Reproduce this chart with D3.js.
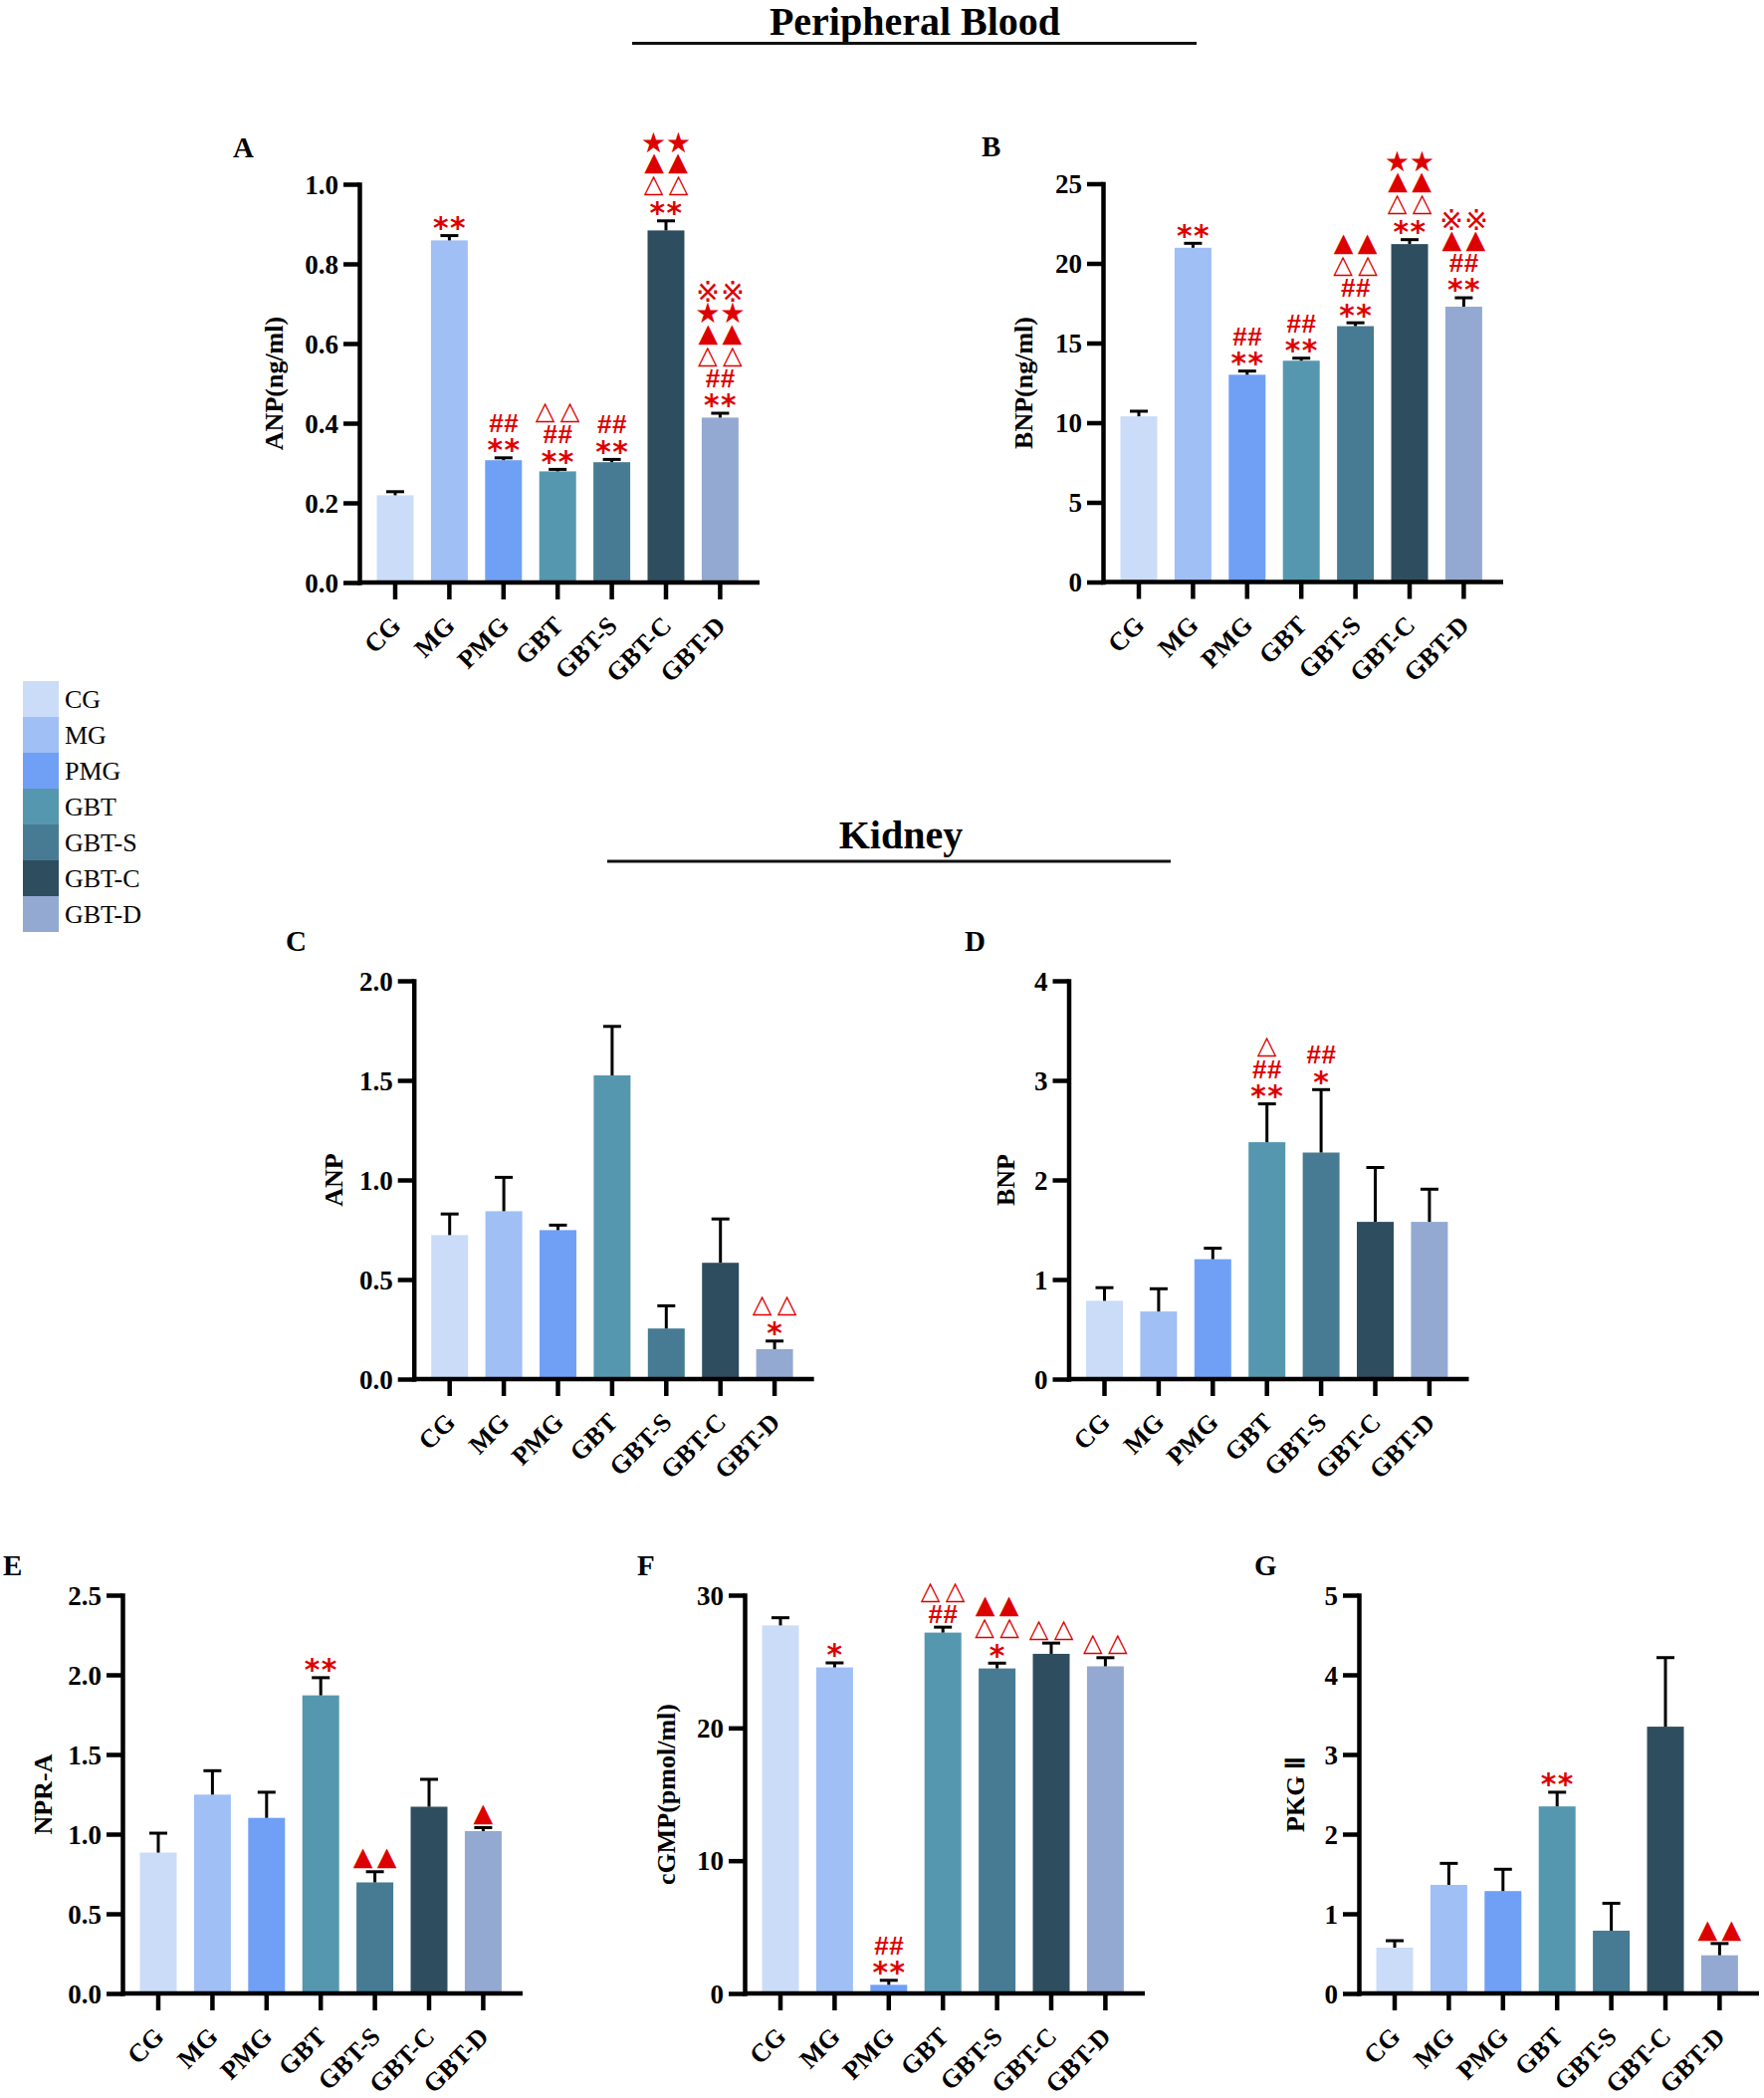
<!DOCTYPE html>
<html>
<head>
<meta charset="utf-8">
<script src="https://cdn.jsdelivr.net/npm/d3@7"></script>
<style>
  body { margin: 0; background: #fff; }
  svg text { fill: #000; }
</style>
</head>
<body>
<div id="chart"></div>
<script>
// groups and their bar colours
const groups = ["CG", "MG", "PMG", "GBT", "GBT-S", "GBT-C", "GBT-D"];
const groupColors = ["#cbdcf9", "#9fbff5", "#70a0f5", "#5697b0", "#477b94", "#2e4e5f", "#94a9d1"];

// A: peripheral blood ANP (ng/ml)
const bloodAnpMean = [0.219, 0.859, 0.307, 0.279, 0.302, 0.884, 0.414];
const bloodAnpErr = [0.009, 0.012, 0.006, 0.005, 0.007, 0.024, 0.011];
const bloodAnpTicks = [0, 0.2, 0.4, 0.6, 0.8, 1.0];
const bloodAnpMarks = [[], ["**"], ["**", "##"], ["**", "##", "△△"], ["**", "##"],
  ["**", "△△", "▲▲", "★★"], ["**", "##", "△△", "▲▲", "★★", "※※"]];

// B: peripheral blood BNP (ng/ml)
const bloodBnpMean = [10.40, 20.98, 13.01, 13.89, 16.06, 21.21, 17.28];
const bloodBnpErr = [0.32, 0.28, 0.23, 0.16, 0.21, 0.28, 0.56];
const bloodBnpTicks = [0, 5, 10, 15, 20, 25];
const bloodBnpMarks = [[], ["**"], ["**", "##"], ["**", "##"], ["**", "##", "△△", "▲▲"],
  ["**", "△△", "▲▲", "★★"], ["**", "##", "▲▲", "※※"]];

// C: kidney ANP
const kidneyAnpMean = [0.723, 0.843, 0.748, 1.525, 0.254, 0.584, 0.150];
const kidneyAnpErr = [0.106, 0.170, 0.025, 0.246, 0.114, 0.220, 0.041];
const kidneyAnpTicks = [0, 0.5, 1.0, 1.5, 2.0];
const kidneyAnpMarks = [[], [], [], [], [], [], ["*", "△△"]];

// D: kidney BNP
const kidneyBnpMean = [0.786, 0.679, 1.204, 2.379, 2.275, 1.579, 1.579];
const kidneyBnpErr = [0.132, 0.228, 0.110, 0.385, 0.632, 0.546, 0.328];
const kidneyBnpTicks = [0, 1, 2, 3, 4];
const kidneyBnpMarks = [[], [], [], ["**", "##", "△"], ["*", "##"], [], []];

// E: NPR-A
const npraMean = [0.884, 1.248, 1.102, 1.871, 0.697, 1.172, 1.019];
const npraErr = [0.122, 0.150, 0.161, 0.111, 0.067, 0.172, 0.022];
const npraTicks = [0, 0.5, 1.0, 1.5, 2.0, 2.5];
const npraMarks = [[], [], [], ["**"], ["▲▲"], [], ["▲"]];

// F: cGMP (pmol/ml)
const cgmpMean = [27.72, 24.56, 0.65, 27.18, 24.48, 25.58, 24.64];
const cgmpErr = [0.58, 0.34, 0.34, 0.41, 0.40, 0.81, 0.65];
const cgmpTicks = [0, 10, 20, 30];
const cgmpMarks = [[], ["*"], ["**", "##"], ["##", "△△"], ["*", "△△", "▲▲"], ["△△"], ["△△"]];

// G: PKG II
const pkgMean = [0.575, 1.363, 1.285, 2.348, 0.788, 3.349, 0.479];
const pkgErr = [0.087, 0.270, 0.274, 0.178, 0.344, 0.867, 0.148];
const pkgTicks = [0, 1, 2, 3, 4, 5];
const pkgMarks = [[], [], [], ["**"], [], [], ["▲▲"]];

const W = 1772, H = 2107;
const plotW = 402, plotH = 400;
const serif = "'Liberation Serif', 'Times New Roman', serif";
const red = "#dd0000";

const svg = d3.select("#chart").append("svg")
  .attr("width", W).attr("height", H)
  .attr("viewBox", [0, 0, W, H]);

// panel layout: y-axis x position, top of plot, offset of axis title
const panels = [
  { tag: "A", x0: 361, y0: 185, tagX: 234, tagY: 158, title: "ANP(ng/ml)", titleOff: 77,
    mean: bloodAnpMean, err: bloodAnpErr, ticks: bloodAnpTicks, marks: bloodAnpMarks, fmt: ".1f" },
  { tag: "B", x0: 1108, y0: 184.5, tagX: 986, tagY: 157, title: "BNP(ng/ml)", titleOff: 71,
    mean: bloodBnpMean, err: bloodBnpErr, ticks: bloodBnpTicks, marks: bloodBnpMarks, fmt: "d" },
  { tag: "C", x0: 415.7, y0: 985, tagX: 287, tagY: 955, title: "ANP", titleOff: 71.5,
    mean: kidneyAnpMean, err: kidneyAnpErr, ticks: kidneyAnpTicks, marks: kidneyAnpMarks, fmt: ".1f" },
  { tag: "D", x0: 1073.5, y0: 985, tagX: 969, tagY: 955, title: "BNP", titleOff: 54.5,
    mean: kidneyBnpMean, err: kidneyBnpErr, ticks: kidneyBnpTicks, marks: kidneyBnpMarks, fmt: "d" },
  { tag: "E", x0: 123, y0: 1602, tagX: 3, tagY: 1582, title: "NPR-A", titleOff: 71,
    mean: npraMean, err: npraErr, ticks: npraTicks, marks: npraMarks, fmt: ".1f" },
  { tag: "F", x0: 748, y0: 1602, tagX: 640, tagY: 1582, title: "cGMP(pmol/ml)", titleOff: 70,
    mean: cgmpMean, err: cgmpErr, ticks: cgmpTicks, marks: cgmpMarks, fmt: "d" },
  { tag: "G", x0: 1365, y0: 1602, tagX: 1260, tagY: 1582, title: "PKG Ⅱ", titleOff: 55,
    mean: pkgMean, err: pkgErr, ticks: pkgTicks, marks: pkgMarks, fmt: "d" },
];

// section headings with underline
function heading(text, cx, baseY, x1, x2, lineY) {
  svg.append("text")
    .attr("x", cx).attr("y", baseY)
    .attr("text-anchor", "middle")
    .attr("font-family", serif).attr("font-weight", "bold").attr("font-size", 40)
    .text(text);
  svg.append("line")
    .attr("x1", x1).attr("x2", x2).attr("y1", lineY).attr("y2", lineY)
    .attr("stroke", "#111").attr("stroke-width", 3);
}
heading("Peripheral Blood", 919, 35, 635, 1202, 43.5);
heading("Kidney", 905, 852, 610, 1176, 865);

// legend
const legend = svg.append("g").attr("transform", "translate(23,684)");
legend.selectAll("rect").data(groups).join("rect")
  .attr("x", 0).attr("y", (d, i) => i * 36)
  .attr("width", 36).attr("height", 36)
  .attr("fill", (d, i) => groupColors[i]);
legend.selectAll("text").data(groups).join("text")
  .attr("x", 42).attr("y", (d, i) => i * 36 + 18)
  .attr("dy", "0.35em")
  .attr("font-family", serif).attr("font-size", 26)
  .text(d => d);

// significance glyphs, sized by measured ink so they sit centred on a row
const glyphStyle = {
  "*": { weight: "bold", family: "'DejaVu Sans'", h: 14, gap: 17 },
  "#": { weight: "bold", family: "'Liberation Sans'", h: 18, gap: 15 },
  "△": { weight: "normal", family: "'DejaVu Sans'", h: 20, gap: 25 },
  "▲": { weight: "normal", family: "'DejaVu Sans'", h: 20, gap: 24 },
  "★": { weight: "normal", family: "'DejaVu Sans'", h: 21, gap: 25 },
  "※": { weight: "normal", family: "'DejaVu Sans', 'Noto Sans CJK SC'", h: 21, gap: 25 },
};
const ctx = document.createElement("canvas").getContext("2d");
const glyphMetric = {};
Object.keys(glyphStyle).forEach(ch => {
  const s = glyphStyle[ch];
  ctx.font = `${s.weight} 100px ${s.family}`;
  const m = ctx.measureText(ch);
  const inkH = m.actualBoundingBoxAscent + m.actualBoundingBoxDescent || 70;
  const k = s.h / inkH;
  glyphMetric[ch] = {
    size: 100 * k,
    dy: (m.actualBoundingBoxAscent - m.actualBoundingBoxDescent) / 2 * k,
    dx: (m.actualBoundingBoxRight - m.actualBoundingBoxLeft) / 2 * k,
  };
});

function drawMarks(g, rows, cx, topY) {
  rows.forEach((row, k) => {
    const cy = topY - 13 - 22 * k;
    const chars = Array.from(row);
    const gap = glyphStyle[chars[0]].gap;
    chars.forEach((ch, j) => {
      const s = glyphStyle[ch], m = glyphMetric[ch];
      const gx = cx + (j - (chars.length - 1) / 2) * gap;
      g.append("text")
        .attr("x", gx - m.dx).attr("y", cy + m.dy)
        .attr("font-family", s.family).attr("font-weight", s.weight)
        .attr("font-size", m.size)
        .style("fill", red)
        .text(ch);
    });
  });
}

function drawPanel(p) {
  const g = svg.append("g");
  const x = d3.scaleBand().domain(groups)
    .range([p.x0 + 8.8, p.x0 + 389.6])
    .paddingInner(0.32).paddingOuter(0.16);
  const y = d3.scaleLinear()
    .domain([0, p.ticks[p.ticks.length - 1]])
    .range([p.y0 + plotH, p.y0]);
  const data = groups.map((d, i) => ({ g: d, i, mean: p.mean[i], err: p.err[i], marks: p.marks[i] }));
  const cx = d => x(d.g) + x.bandwidth() / 2;

  // bars
  g.selectAll("rect.bar").data(data).join("rect")
    .attr("class", "bar")
    .attr("x", d => x(d.g))
    .attr("y", d => y(d.mean))
    .attr("width", x.bandwidth())
    .attr("height", d => y(0) - y(d.mean))
    .attr("fill", d => groupColors[d.i]);

  // upper error bars
  const eb = g.selectAll("g.err").data(data).join("g").attr("class", "err")
    .attr("stroke", "#000").attr("stroke-width", 3);
  eb.append("line")
    .attr("x1", cx).attr("x2", cx)
    .attr("y1", d => y(d.mean)).attr("y2", d => y(d.mean + d.err));
  eb.append("line")
    .attr("x1", d => cx(d) - 9).attr("x2", d => cx(d) + 9)
    .attr("y1", d => y(d.mean + d.err)).attr("y2", d => y(d.mean + d.err));

  // y axis
  g.append("g")
    .attr("transform", `translate(${p.x0},0)`)
    .call(d3.axisLeft(y).tickValues(p.ticks).tickFormat(d3.format(p.fmt))
      .tickSize(16).tickSizeOuter(0).tickPadding(5))
    .call(a => a.select(".domain").attr("stroke-width", 4.5).attr("stroke-linecap", "square"))
    .call(a => a.selectAll(".tick line").attr("stroke-width", 4.5))
    .call(a => a.selectAll(".tick text")
      .attr("font-family", serif).attr("font-weight", "bold").attr("font-size", 27)
      .attr("dy", "0.34em"));

  // x axis
  g.append("line")
    .attr("x1", p.x0).attr("x2", p.x0 + plotW)
    .attr("y1", y(0)).attr("y2", y(0))
    .attr("stroke", "#000").attr("stroke-width", 4.5);
  g.append("g")
    .attr("transform", `translate(0,${y(0)})`)
    .call(d3.axisBottom(x).tickSize(17).tickSizeOuter(0))
    .call(a => a.select(".domain").remove())
    .call(a => a.selectAll(".tick line").attr("stroke-width", 4.5))
    .call(a => a.selectAll(".tick text")
      .attr("y", null).attr("dy", null)
      .attr("transform", "translate(7,45) rotate(-45)")
      .attr("text-anchor", "end")
      .attr("font-family", serif).attr("font-weight", "bold").attr("font-size", 26));

  // axis title
  g.append("text")
    .attr("transform", `translate(${p.x0 - p.titleOff},${p.y0 + plotH / 2}) rotate(-90)`)
    .attr("text-anchor", "middle")
    .attr("font-family", serif).attr("font-weight", "bold").attr("font-size", 26)
    .text(p.title);

  // panel letter
  g.append("text")
    .attr("x", p.tagX).attr("y", p.tagY)
    .attr("font-family", serif).attr("font-weight", "bold").attr("font-size", 29)
    .text(p.tag);

  // significance marks above each error bar
  data.forEach(d => drawMarks(g, d.marks, cx(d), y(d.mean + d.err)));
}

panels.forEach(drawPanel);
</script>
</body>
</html>
